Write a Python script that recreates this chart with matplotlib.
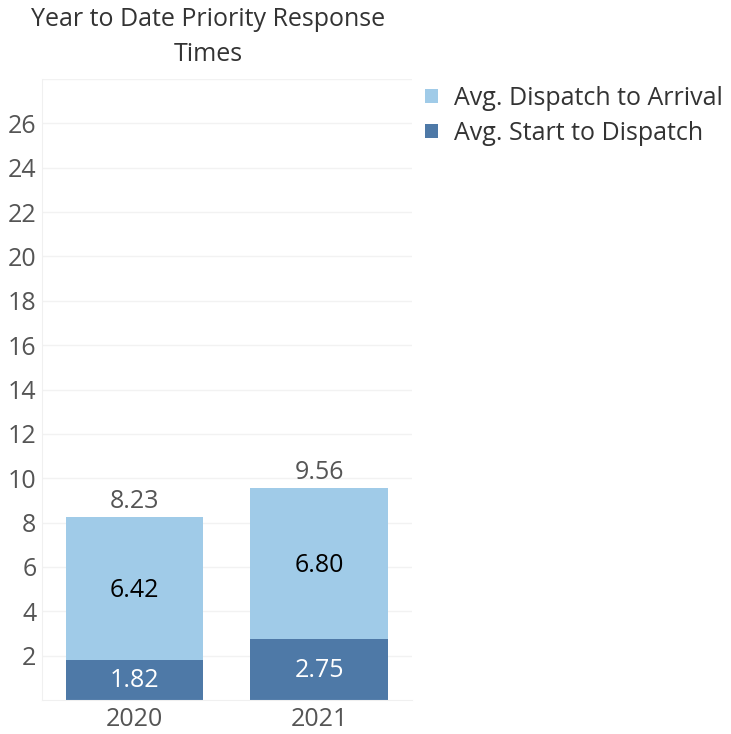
import numpy as np
import matplotlib.pyplot as plt

years = ["2020", "2021"]
start_to_dispatch = [1.82, 2.75]
dispatch_to_arrival = [6.42, 6.80]
totals = [8.23, 9.56]
yticks = [2, 4, 6, 8, 10, 12, 14, 16, 18, 20, 22, 24, 26]

dark = "#4e79a7"
light = "#a0cbe8"
grey = "#555555"

plt.rcParams["font.family"] = ["Open Sans", "DejaVu Sans"]

fig = plt.figure(figsize=(7.31, 7.34), dpi=100)
ax = fig.add_axes([0.0575, 0.0463, 0.506, 0.846])

x = np.arange(len(years))
w = 0.746
b1 = ax.bar(x, start_to_dispatch, w, color=dark, label="Avg. Start to Dispatch", zorder=2)
b2 = ax.bar(x, dispatch_to_arrival, w, bottom=start_to_dispatch, color=light,
            label="Avg. Dispatch to Arrival", zorder=2)

for i in range(len(years)):
    ax.text(x[i], start_to_dispatch[i] / 2 - 0.05, f"{start_to_dispatch[i]:.2f}",
            ha="center", va="center", color="white", fontsize=18)
    ax.text(x[i], start_to_dispatch[i] + dispatch_to_arrival[i] / 2 - 0.1,
            f"{dispatch_to_arrival[i]:.2f}", ha="center", va="center",
            color="black", fontsize=18)
    ax.text(x[i], totals[i] + 0.15, f"{totals[i]:.2f}", ha="center", va="bottom",
            color=grey, fontsize=18)

ax.set_xlim(-0.5, 1.5)
ax.set_ylim(0, 28)
ax.set_xticks(x)
ax.set_xticklabels(years)
ax.set_yticks(yticks)
ax.tick_params(length=0, labelsize=18, labelcolor=grey)
ax.tick_params(axis="y", pad=4)
ax.tick_params(axis="x", pad=5)
for y in yticks + [28]:
    ax.axhline(y, color="#f2f2f2", lw=1, zorder=0)
for s in ["top", "right"]:
    ax.spines[s].set_visible(False)
ax.spines["left"].set_color("#f0f0f0")
ax.spines["bottom"].set_color("#f0f0f0")

fig.text(0.285, 0.99, "Year to Date Priority Response\nTimes", ha="center", va="top",
         fontsize=18, color="#333333", linespacing=1.5)

ax.legend(handles=[b2, b1], loc="upper left", bbox_to_anchor=(0.975, 1.025),
          frameon=False, fontsize=18, handlelength=0.5, handleheight=0.5,
          handletextpad=0.65, labelspacing=0.4, labelcolor="#333333")

fig.savefig("out.png", dpi=100)
